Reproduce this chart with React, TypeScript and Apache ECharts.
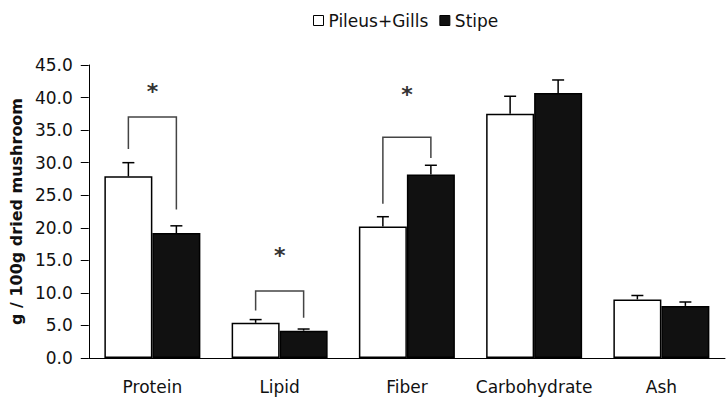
import React, { useEffect, useRef } from "react";
import * as echarts from "echarts";

const categories = ["Protein", "Lipid", "Fiber", "Carbohydrate", "Ash"];
const seriesNames = ["Pileus+Gills", "Stipe"];
const pileusValues = [27.9, 5.4, 20.2, 37.5, 9.0];
const pileusErrors = [2.1, 0.5, 1.5, 2.7, 0.6];
const stipeValues = [19.2, 4.2, 28.2, 40.7, 8.0];
const stipeErrors = [1.1, 0.25, 1.4, 2.0, 0.6];
// significance brackets (category index, left foot, top, right foot)
const bracketCategories = [0, 1, 2];
const bracketLeftFoot = [32.1, 7.3, 23.7];
const bracketTop = [37.0, 10.3, 33.9];
const bracketRightFoot = [22.8, 6.2, 30.7];
const asteriskValues = [41.5, 16.3, 41.1];
const yTickMin = 0;
const yTickMax = 45;
const yTickStep = 5;

const FONT = "DejaVu Sans";
const BAR_W = 48;
const HALF = BAR_W / 2;

export default function App() {
  const ref = useRef<HTMLDivElement>(null);
  useEffect(() => {
    if (!ref.current) return;
    const chart = echarts.init(ref.current, undefined, { renderer: "svg" });

    const errRender = (offset: number) => (params: any, api: any) => {
      const base = api.coord([api.value(0), api.value(1)]);
      const top = api.coord([api.value(0), api.value(1) + api.value(2)]);
      const x = base[0] + offset;
      const style = { stroke: "#000", lineWidth: 1.5 };
      return {
        type: "group",
        children: [
          { type: "line", shape: { x1: x, y1: base[1], x2: x, y2: top[1] }, style },
          { type: "line", shape: { x1: x - 6, y1: top[1], x2: x + 6, y2: top[1] }, style },
        ],
      };
    };

    chart.setOption({
      animation: false,
      legend: {
        left: 308,
        top: 7,
        itemWidth: 10,
        itemHeight: 10,
        itemGap: 11,
        textStyle: { fontFamily: FONT, fontSize: 17, color: "#111", padding: [0, 0, 0, 0] },
        data: [
          { name: seriesNames[0], icon: "rect", itemStyle: { color: "#fff", borderColor: "#000", borderWidth: 1 } },
          { name: seriesNames[1], icon: "rect", itemStyle: { color: "#111", borderColor: "#000", borderWidth: 1 } },
        ],
      },
      grid: { left: 88, right: 3, top: 65, bottom: 43, containLabel: false },
      xAxis: {
        type: "category",
        data: categories,
        axisLine: { lineStyle: { color: "#000", width: 1 } },
        axisTick: { length: 6, lineStyle: { color: "#000" } },
        axisLabel: { fontFamily: FONT, fontSize: 17, color: "#111", margin: 20, interval: 0 },
      },
      yAxis: {
        type: "value",
        min: yTickMin,
        max: yTickMax,
        interval: yTickStep,
        name: "g / 100g dried mushroom",
        nameLocation: "middle",
        nameGap: 54,
        nameTextStyle: { fontFamily: FONT, fontSize: 16, fontWeight: "bold", color: "#111" },
        splitLine: { show: false },
        axisLine: { show: true, lineStyle: { color: "#000", width: 1 } },
        axisTick: { show: true, length: 8, lineStyle: { color: "#000" } },
        axisLabel: {
          fontFamily: FONT,
          fontSize: 17,
          color: "#111",
          margin: 16,
          formatter: (v: number) => v.toFixed(1),
        },
      },
      series: [
        {
          name: seriesNames[0],
          type: "bar",
          data: pileusValues,
          barWidth: BAR_W,
          barGap: "0%",
          itemStyle: { color: "#fff", borderColor: "#000", borderWidth: 1.5 },
        },
        {
          name: seriesNames[1],
          type: "bar",
          data: stipeValues,
          barWidth: BAR_W,
          barGap: "0%",
          itemStyle: { color: "#111", borderColor: "#000", borderWidth: 1.5 },
        },
        {
          type: "custom",
          renderItem: errRender(-HALF),
          data: pileusValues.map((v, i) => [i, v, pileusErrors[i]]),
          itemStyle: { color: "#000" },
          z: 5,
        },
        {
          type: "custom",
          renderItem: errRender(HALF),
          data: stipeValues.map((v, i) => [i, v, stipeErrors[i]]),
          itemStyle: { color: "#000" },
          z: 5,
        },
        {
          type: "custom",
          renderItem: (params: any, api: any) => {
            const c = api.value(0);
            const lf = api.coord([c, api.value(1)]);
            const tp = api.coord([c, api.value(2)]);
            const rf = api.coord([c, api.value(3)]);
            const xl = lf[0] - HALF;
            const xr = lf[0] + HALF;
            return {
              type: "polyline",
              shape: { points: [[xl, lf[1]], [xl, tp[1]], [xr, tp[1]], [xr, rf[1]]] },
              style: { stroke: "#444", lineWidth: 1.5, fill: "none" },
            };
          },
          data: bracketCategories.map((c, i) => [c, bracketLeftFoot[i], bracketTop[i], bracketRightFoot[i]]),
          itemStyle: { color: "#444" },
          z: 5,
        },
        {
          type: "custom",
          renderItem: (params: any, api: any) => {
            const p = api.coord([api.value(0), api.value(1)]);
            return {
              type: "text",
              x: p[0],
              y: p[1] + 4,
              style: {
                text: "*",
                fontFamily: FONT,
                fontSize: 22,
                fontWeight: "bold",
                fill: "#333",
                align: "center",
                verticalAlign: "middle",
              },
            };
          },
          data: bracketCategories.map((c, i) => [c, asteriskValues[i]]),
          itemStyle: { color: "#333" },
          z: 5,
        },
      ],
    });
    return () => chart.dispose();
  }, []);
  return (
    <div
      ref={ref}
      style={{ position: "fixed", left: 0, top: 0, width: 728, height: 401, background: "#fff" }}
    />
  );
}
